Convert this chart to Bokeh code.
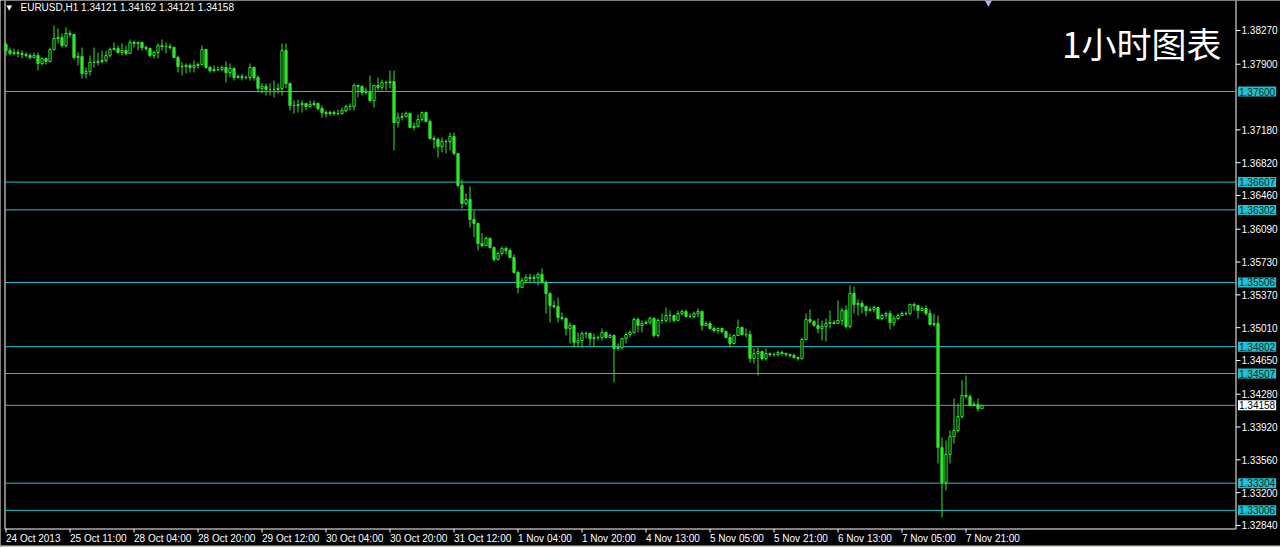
from bokeh.plotting import figure
from bokeh.models import Range1d, Label, ColumnDataSource
from bokeh.embed import file_html
from bokeh.resources import INLINE
from bokeh.core.properties import value

# ---------------- data ----------------
header = "EURUSD,H1  1.34121 1.34162 1.34121 1.34158"
big_title = "1小时图表"

first_open = 1.38116
closes = [
    1.38050, 1.38018, 1.38029, 1.38018, 1.38007, 1.37996, 1.37974, 1.37996, 1.37908, 1.37963,
    1.37930, 1.38061, 1.38182, 1.38193, 1.38105, 1.38237, 1.38226, 1.37974, 1.37985, 1.37798,
    1.37820, 1.37919, 1.37919, 1.37930, 1.37941, 1.37996, 1.38061, 1.38072, 1.38029, 1.38050,
    1.38018, 1.38138, 1.38127, 1.38138, 1.38083, 1.38072, 1.37996, 1.38029, 1.38105, 1.38094,
    1.38094, 1.38083, 1.37974, 1.37875, 1.37875, 1.37886, 1.37864, 1.37886, 1.37897, 1.38061,
    1.37864, 1.37831, 1.37842, 1.37842, 1.37864, 1.37809, 1.37853, 1.37754, 1.37765, 1.37754,
    1.37754, 1.37864, 1.37754, 1.37634, 1.37656, 1.37623, 1.37623, 1.37623, 1.37634, 1.38050,
    1.37688, 1.37447, 1.37447, 1.37458, 1.37469, 1.37436, 1.37458, 1.37469, 1.37414, 1.37370,
    1.37359, 1.37370, 1.37359, 1.37359, 1.37392, 1.37436, 1.37436, 1.37667, 1.37656, 1.37590,
    1.37590, 1.37502, 1.37667, 1.37645, 1.37699, 1.37699, 1.37710, 1.37261, 1.37316, 1.37326,
    1.37359, 1.37206, 1.37217, 1.37294, 1.37370, 1.37272, 1.37085, 1.37074, 1.36997, 1.37052,
    1.37052, 1.37107, 1.36921, 1.36570, 1.36372, 1.36416, 1.36197, 1.36153, 1.35933, 1.35911,
    1.35988, 1.35889, 1.35758, 1.35823, 1.35878, 1.35856, 1.35780, 1.35615, 1.35450, 1.35527,
    1.35560, 1.35549, 1.35560, 1.35593, 1.35505, 1.35385, 1.35253, 1.35242, 1.35122, 1.35111,
    1.35001, 1.35034, 1.34847, 1.34869, 1.34946, 1.34946, 1.34891, 1.34902, 1.34902, 1.34957,
    1.34902, 1.34924, 1.34781, 1.34792, 1.34891, 1.34935, 1.34957, 1.35100, 1.35034, 1.35056,
    1.35067, 1.35111, 1.34924, 1.35089, 1.35089, 1.35143, 1.35143, 1.35089, 1.35165, 1.35187,
    1.35133, 1.35133, 1.35165, 1.35187, 1.35034, 1.35056, 1.35001, 1.34979, 1.35001, 1.34968,
    1.34902, 1.34836, 1.34924, 1.35012, 1.34935, 1.34935, 1.34671, 1.34726, 1.34748, 1.34671,
    1.34726, 1.34715, 1.34715, 1.34737, 1.34726, 1.34715, 1.34704, 1.34682, 1.34671, 1.34880,
    1.35100, 1.35078, 1.35034, 1.35001, 1.35023, 1.35056, 1.35067, 1.35056, 1.35089, 1.35198,
    1.35023, 1.35385, 1.35264, 1.35275, 1.35242, 1.35198, 1.35209, 1.35231, 1.35111, 1.35143,
    1.35165, 1.35067, 1.35111, 1.35143, 1.35165, 1.35165, 1.35264, 1.35253, 1.35198, 1.35220,
    1.35165, 1.35045, 1.35056, 1.33695, 1.33311, 1.33619, 1.33816, 1.33882, 1.34035, 1.34266,
    1.34255, 1.34156, 1.34167, 1.34121, 1.34158,
]
highs = [
    1.38138, 1.38083, 1.38072, 1.38061, 1.38050, 1.38029, 1.38018, 1.38029, 1.38029, 1.37974,
    1.37974, 1.38083, 1.38325, 1.38292, 1.38237, 1.38303, 1.38270, 1.38237, 1.38029, 1.38083,
    1.37864, 1.37996, 1.38083, 1.38029, 1.38050, 1.38050, 1.38083, 1.38138, 1.38105, 1.38127,
    1.38105, 1.38171, 1.38160, 1.38149, 1.38149, 1.38105, 1.38083, 1.38050, 1.38127, 1.38171,
    1.38138, 1.38127, 1.38094, 1.37996, 1.37919, 1.37908, 1.37908, 1.37941, 1.37919, 1.38105,
    1.38072, 1.37886, 1.37886, 1.37875, 1.37886, 1.37930, 1.37908, 1.37864, 1.37787, 1.37798,
    1.37776, 1.37908, 1.37875, 1.37776, 1.37688, 1.37688, 1.37688, 1.37721, 1.37688, 1.38127,
    1.38127, 1.37699, 1.37502, 1.37513, 1.37502, 1.37469, 1.37502, 1.37502, 1.37480, 1.37447,
    1.37392, 1.37392, 1.37392, 1.37403, 1.37425, 1.37458, 1.37469, 1.37688, 1.37678, 1.37667,
    1.37645, 1.37776, 1.37667, 1.37754, 1.37732, 1.37721, 1.37831, 1.37831, 1.37370, 1.37370,
    1.37381, 1.37370, 1.37261, 1.37348, 1.37381, 1.37381, 1.37294, 1.37118, 1.37096, 1.37096,
    1.37074, 1.37151, 1.37151, 1.36921, 1.36635, 1.36482, 1.36559, 1.36295, 1.36164, 1.36043,
    1.36010, 1.36000, 1.35900, 1.35846, 1.35900, 1.35900, 1.35878, 1.35813, 1.35637, 1.35560,
    1.35593, 1.35604, 1.35593, 1.35615, 1.35659, 1.35527, 1.35396, 1.35308, 1.35341, 1.35176,
    1.35122, 1.35067, 1.35034, 1.34957, 1.34968, 1.34968, 1.34957, 1.34946, 1.34924, 1.35001,
    1.34968, 1.34946, 1.34935, 1.34836, 1.34891, 1.34957, 1.34979, 1.35122, 1.35122, 1.35089,
    1.35089, 1.35133, 1.35122, 1.35111, 1.35165, 1.35231, 1.35198, 1.35154, 1.35198, 1.35209,
    1.35209, 1.35165, 1.35187, 1.35220, 1.35198, 1.35078, 1.35078, 1.35023, 1.35012, 1.35012,
    1.34979, 1.34946, 1.34935, 1.35100, 1.35023, 1.35001, 1.34979, 1.34781, 1.34792, 1.34759,
    1.34781, 1.34737, 1.34737, 1.34759, 1.34759, 1.34737, 1.34726, 1.34726, 1.34693, 1.34902,
    1.35165, 1.35209, 1.35089, 1.35111, 1.35089, 1.35111, 1.35198, 1.35089, 1.35308, 1.35231,
    1.35253, 1.35473, 1.35462, 1.35319, 1.35308, 1.35253, 1.35242, 1.35253, 1.35242, 1.35165,
    1.35187, 1.35198, 1.35143, 1.35165, 1.35187, 1.35187, 1.35275, 1.35286, 1.35253, 1.35242,
    1.35253, 1.35209, 1.35165, 1.35143, 1.33805, 1.33772, 1.33882, 1.34233, 1.34178, 1.34431,
    1.34485, 1.34277, 1.34200, 1.34233, 1.34162,
]
lows = [
    1.37996, 1.37996, 1.37996, 1.37974, 1.37963, 1.37974, 1.37952, 1.37963, 1.37831, 1.37886,
    1.37897, 1.37919, 1.38050, 1.38127, 1.38083, 1.38083, 1.38193, 1.37952, 1.37886, 1.37743,
    1.37743, 1.37776, 1.37864, 1.37886, 1.37908, 1.37919, 1.37974, 1.38050, 1.38018, 1.37996,
    1.37996, 1.38018, 1.38083, 1.38050, 1.38050, 1.38050, 1.37974, 1.37963, 1.37963, 1.38050,
    1.38018, 1.38061, 1.37963, 1.37809, 1.37776, 1.37798, 1.37809, 1.37809, 1.37853, 1.37886,
    1.37853, 1.37809, 1.37809, 1.37820, 1.37820, 1.37699, 1.37754, 1.37721, 1.37743, 1.37721,
    1.37732, 1.37721, 1.37721, 1.37590, 1.37579, 1.37557, 1.37557, 1.37535, 1.37579, 1.37557,
    1.37634, 1.37392, 1.37359, 1.37370, 1.37370, 1.37392, 1.37425, 1.37436, 1.37392, 1.37316,
    1.37316, 1.37337, 1.37337, 1.37337, 1.37348, 1.37370, 1.37392, 1.37392, 1.37535, 1.37557,
    1.37568, 1.37480, 1.37425, 1.37612, 1.37612, 1.37612, 1.37634, 1.36953, 1.37206, 1.37283,
    1.37316, 1.37195, 1.37173, 1.37206, 1.37272, 1.37261, 1.37074, 1.36975, 1.36877, 1.36932,
    1.36921, 1.36953, 1.36899, 1.36548, 1.36317, 1.36350, 1.36109, 1.36000, 1.35856, 1.35889,
    1.35911, 1.35878, 1.35736, 1.35747, 1.35802, 1.35813, 1.35769, 1.35604, 1.35385, 1.35460,
    1.35494, 1.35505, 1.35505, 1.35472, 1.35494, 1.35165, 1.35067, 1.35220, 1.35067, 1.35089,
    1.34924, 1.34836, 1.34792, 1.34792, 1.34792, 1.34891, 1.34814, 1.34803, 1.34869, 1.34869,
    1.34891, 1.34902, 1.34408, 1.34759, 1.34770, 1.34836, 1.34902, 1.34946, 1.34957, 1.34957,
    1.35045, 1.35045, 1.34902, 1.34902, 1.35056, 1.35067, 1.35067, 1.35067, 1.35089, 1.35143,
    1.35122, 1.35111, 1.35111, 1.35122, 1.34979, 1.35034, 1.34990, 1.34957, 1.34946, 1.34946,
    1.34891, 1.34792, 1.34825, 1.34924, 1.34924, 1.34902, 1.34627, 1.34616, 1.34485, 1.34649,
    1.34649, 1.34693, 1.34693, 1.34693, 1.34704, 1.34693, 1.34682, 1.34671, 1.34649, 1.34660,
    1.34869, 1.35056, 1.35023, 1.34946, 1.34869, 1.34858, 1.35001, 1.35045, 1.35056, 1.35034,
    1.35001, 1.35001, 1.35165, 1.35143, 1.35165, 1.35133, 1.35187, 1.35176, 1.35100, 1.35089,
    1.35111, 1.34990, 1.35023, 1.35089, 1.35143, 1.35143, 1.35143, 1.35198, 1.35111, 1.35198,
    1.35143, 1.35034, 1.35023, 1.33520, 1.32928, 1.33224, 1.33520, 1.33739, 1.33860, 1.34013,
    1.34233, 1.34145, 1.34145, 1.34090, 1.34121,
]

levels = [1.37600, 1.36607, 1.36302, 1.35506, 1.34802, 1.34507, 1.33304, 1.33006]
bid = 1.34158

price_ticks = [1.32840, 1.33200, 1.33560, 1.33920, 1.34280, 1.34650, 1.35010, 1.35370,
               1.35730, 1.36090, 1.36460, 1.36820, 1.37180, 1.37900, 1.38270]
date_ticks = [0, 16, 32, 48, 64, 80, 96, 112, 128, 144, 160, 176, 192, 208, 224, 240]
date_labels = ["24 Oct 2013", "25 Oct 11:00", "28 Oct 04:00", "28 Oct 20:00", "29 Oct 12:00",
               "30 Oct 04:00", "30 Oct 20:00", "31 Oct 12:00", "1 Nov 04:00", "1 Nov 20:00",
               "4 Nov 13:00", "5 Nov 05:00", "5 Nov 21:00", "6 Nov 13:00", "7 Nov 05:00",
               "7 Nov 21:00"]

# ---------------- layout helpers (pixel -> data for decorations) ----------------
GREEN = "#2fe62f"
CYAN_LINE = "#1ec3cc"
CYAN_BOX = "#22c1cb"
FONT = "Liberation Sans"
W, H = 1280, 547
BAR_PX = 4.0          # pixels per hourly bar
X_AT0 = 5.5           # pixel of bar 0
PRICE_TOP = 1.38599   # price at pixel row 0
PRICE_PER_PX = 0.0001097


def bx(px):
    return (px - X_AT0) / BAR_PX


def py(row):
    return PRICE_TOP - PRICE_PER_PX * row


XL, XR = bx(4.5), bx(1235.5)    # chart frame left / right edge (price scale line)
YB = py(528.5)                  # chart frame bottom (time scale line)

n = len(closes)
idx = list(range(n))
opens = [first_open] + closes[:-1]

p = figure(width=W, height=H, x_range=Range1d(bx(0), bx(W)), y_range=Range1d(py(H), py(0)),
           toolbar_location=None, tools="", output_backend="svg",
           x_axis_location=None, y_axis_location=None,
           background_fill_color="black", border_fill_color="black",
           outline_line_color=None, min_border=0)
p.grid.visible = False

# window border at the bottom
p.segment(x0=[bx(0)], y0=[py(546)], x1=[bx(W)], y1=[py(546)], line_color="#d4d0c8", line_width=2)

# frame lines (left border, price scale line, time scale line)
p.segment(x0=[XL, XR, XL], y0=[YB, YB, YB], x1=[XL, XR, XR], y1=[py(0), py(0), YB],
          line_color="white", line_width=1)

# horizontal level lines
p.segment(x0=[XL] * len(levels), y0=levels, x1=[XR] * len(levels), y1=levels,
          line_color=CYAN_LINE, line_width=1)
p.segment(x0=[XL], y0=[bid], x1=[XR], y1=[bid], line_color="#8c8c8c", line_width=1)

# candles
wick_src = ColumnDataSource(dict(x=idx, lo=lows, hi=highs))
p.segment(x0="x", y0="lo", x1="x", y1="hi", source=wick_src, line_color=GREEN, line_width=1)

bull = [i for i in idx if closes[i] >= opens[i]]
bear = [i for i in idx if closes[i] < opens[i]]
bull_src = ColumnDataSource(dict(x=bull, b=[opens[i] for i in bull], t=[closes[i] for i in bull]))
bear_src = ColumnDataSource(dict(x=bear, b=[closes[i] for i in bear], t=[opens[i] for i in bear]))
p.vbar(x="x", bottom="b", top="t", width=0.55, source=bull_src,
       fill_color="black", line_color=GREEN, line_width=1)
p.vbar(x="x", bottom="b", top="t", width=0.55, source=bear_src,
       fill_color=GREEN, line_color=GREEN, line_width=1)

# chart-shift marker
p.scatter(x=[n + 0.6], y=[py(1)], marker="inverted_triangle", size=9,
          fill_color="#a9b8cc", line_color=None)

# price scale: ticks + labels
p.segment(x0=[XR] * len(price_ticks), y0=price_ticks, x1=[bx(1240)] * len(price_ticks),
          y1=price_ticks, line_color="white", line_width=1)
ptxt = ColumnDataSource(dict(y=price_ticks, t=[f"{v:.5f}" for v in price_ticks]))
p.text(x=bx(1241), y="y", text="t", source=ptxt, text_color="white",
       text_font=value(FONT), text_font_size="10px", text_align="left", text_baseline="middle")

# time scale: ticks + labels (left-aligned at the tick)
p.segment(x0=date_ticks, y0=[YB] * len(date_ticks), x1=date_ticks, y1=[py(532)] * len(date_ticks),
          line_color="white", line_width=1)
dtxt = ColumnDataSource(dict(x=date_ticks, t=date_labels))
p.text(x="x", y=py(537.5), text="t", source=dtxt, text_color="white",
       text_font=value(FONT), text_font_size="10px", text_align="left", text_baseline="middle")

# price boxes on the right scale
for lv in levels:
    p.add_layout(Label(x=XR, y=lv, x_offset=2, text=f"{lv:.5f}", text_font=FONT,
                       text_font_size="10px", text_color="#06262a", text_align="left",
                       text_baseline="middle", background_fill_color=CYAN_BOX,
                       padding=1, level="overlay"))
p.add_layout(Label(x=XR, y=bid, x_offset=2, text=f"{bid:.5f}", text_font=FONT,
                   text_font_size="10px", text_color="black", text_align="left",
                   text_baseline="middle", background_fill_color="white",
                   padding=1, level="overlay"))

# header text
p.add_layout(Label(x=bx(6), y=py(7), text="▼", text_font="DejaVu Sans",
                   text_font_size="7px", text_color="white", text_baseline="middle",
                   text_align="left"))
p.add_layout(Label(x=bx(20), y=py(7), text=header, text_font=FONT,
                   text_font_size="10px", text_color="white", text_baseline="middle",
                   text_align="left"))

# big chart caption
p.add_layout(Label(x=bx(1221), y=py(42), text=big_title,
                   text_font="Noto Sans CJK SC", text_font_size="35px",
                   text_color="white", text_baseline="middle", text_align="right"))

open("out.html", "w").write(file_html(p, INLINE))
